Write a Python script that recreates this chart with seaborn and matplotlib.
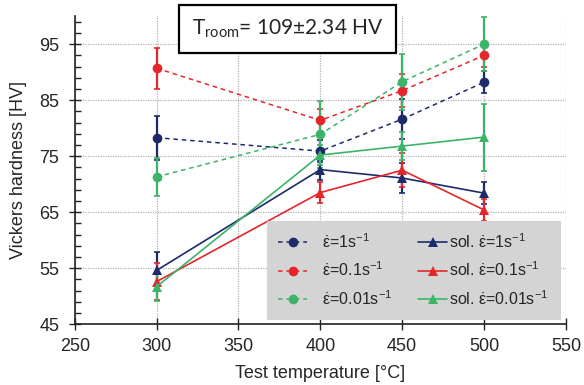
import numpy as np
import pandas as pd
import matplotlib
matplotlib.use("Agg")
import matplotlib.pyplot as plt
import seaborn as sns
from matplotlib.ticker import FixedLocator

# ----------------------
# Data
# ----------------------
temps = [300, 400, 450, 500]

dash_1 = [78.3, 75.9, 81.6, 88.2]
dash_1_err = [3.9, 2.0, 3.6, 2.0]
dash_01 = [90.7, 81.4, 86.7, 93.0]
dash_01_err = [3.7, 2.0, 3.0, 2.0]
dash_001 = [71.3, 78.9, 88.3, 95.0]
dash_001_err = [3.4, 6.0, 5.0, 4.8]

sol_1 = [54.6, 72.6, 71.1, 68.4]
sol_1_err = [3.3, 1.8, 2.7, 2.0]
sol_01 = [52.6, 68.5, 72.5, 65.4]
sol_01_err = [3.3, 1.8, 3.0, 2.0]
sol_001 = [51.7, 75.2, 76.8, 78.4]
sol_001_err = [2.6, 1.8, 2.5, 6.0]

labels_dash = [r"$\dot{\varepsilon}$=1s$^{-1}$",
               r"$\dot{\varepsilon}$=0.1s$^{-1}$",
               r"$\dot{\varepsilon}$=0.01s$^{-1}$"]
labels_sol = [r"sol. $\dot{\varepsilon}$=1s$^{-1}$",
              r"sol. $\dot{\varepsilon}$=0.1s$^{-1}$",
              r"sol. $\dot{\varepsilon}$=0.01s$^{-1}$"]

x_ticks = [250, 300, 350, 400, 450, 500, 550]
y_ticks = [45, 55, 65, 75, 85, 95]

NAVY = "#1d2b6b"
RED = "#e4262b"
GREEN = "#3cb468"
colors = [NAVY, RED, GREEN]

# ----------------------
# Style
# ----------------------
sns.set_style("white")
plt.rcParams["font.family"] = ["Liberation Sans", "DejaVu Sans"]
plt.rcParams["mathtext.fontset"] = "custom"
plt.rcParams["mathtext.rm"] = "Liberation Sans"
plt.rcParams["mathtext.it"] = "Liberation Sans:italic"
plt.rcParams["mathtext.default"] = "regular"

fig = plt.figure(figsize=(5.84, 3.85), dpi=100)
ax = fig.add_axes([0.128, 0.158, 0.841, 0.800])

dash_series = [(dash_1, dash_1_err), (dash_01, dash_01_err), (dash_001, dash_001_err)]
sol_series = [(sol_1, sol_1_err), (sol_01, sol_01_err), (sol_001, sol_001_err)]

for (vals, err), col, lab in zip(dash_series, colors, labels_dash):
    df = pd.DataFrame({"T": temps, "HV": vals})
    ax.errorbar(df["T"], df["HV"], yerr=err, fmt="none", ecolor=col,
                elinewidth=1.6, capsize=2, capthick=1.2, zorder=2)
    sns.lineplot(data=df, x="T", y="HV", ax=ax, color=col, linestyle=(0, (3, 2.5)),
                 linewidth=1.1, marker="o", markersize=7, markeredgewidth=0,
                 label="\u00a0\u00a0\u00a0" + lab, zorder=3)

for (vals, err), col, lab in zip(sol_series, colors, labels_sol):
    df = pd.DataFrame({"T": temps, "HV": vals})
    ax.errorbar(df["T"], df["HV"], yerr=err, fmt="none", ecolor=col,
                elinewidth=1.6, capsize=2, capthick=1.2, zorder=2)
    sns.lineplot(data=df, x="T", y="HV", ax=ax, color=col, linestyle="-",
                 linewidth=1.2, marker="^", markersize=7, markeredgewidth=0,
                 label=lab, zorder=3)

# ----------------------
# Axes
# ----------------------
ax.set_xlim(250, 550)
ax.set_ylim(45, 100)
ax.set_xticks(x_ticks)
ax.set_yticks(y_ticks)
ax.yaxis.set_minor_locator(FixedLocator(np.arange(47, 100, 2)))
ax.tick_params(axis="both", which="major", direction="inout", length=8.5,
               width=1, labelsize=13, color="#222222")
ax.tick_params(axis="x", which="major", pad=6)
ax.tick_params(axis="y", which="major", pad=7)
ax.tick_params(axis="y", which="minor", direction="in", length=4.5,
               width=1, left=True, color="#222222")
ax.tick_params(axis="y", which="major", left=True)
ax.tick_params(axis="x", which="major", bottom=True)

for side in ["top", "right"]:
    ax.spines[side].set_visible(False)
for side in ["left", "bottom"]:
    ax.spines[side].set_color("#222222")
    ax.spines[side].set_linewidth(1.2)

ax.grid(True, which="major", color="#b0b0b0", linestyle=(0, (1, 1)), linewidth=0.9)
ax.set_axisbelow(True)

ax.set_xlabel("Test temperature [°C]", fontsize=13, labelpad=7)
ax.set_ylabel("Vickers hardness [HV]", fontsize=13, labelpad=9)

leg = ax.legend(ncol=2, loc="lower right", bbox_to_anchor=(0.988, 0.016),
                borderaxespad=0, fontsize=11.5, frameon=True, fancybox=False, framealpha=1,
                facecolor="#d4d4d4", edgecolor="#d4d4d4",
                handlelength=1.8, handletextpad=0.15, columnspacing=1.6,
                labelspacing=0.62, borderpad=0.7)
leg.get_frame().set_linewidth(0.8)

fig.text(0.492, 0.925, r"T$_{room}$= 109±2.34 HV", fontsize=15, family=["Lato", "DejaVu Sans"],
         ha="center", va="center",
         bbox=dict(boxstyle="square,pad=0.6", facecolor="white", edgecolor="black", linewidth=1.6))

fig.savefig("out.png", dpi=100)
